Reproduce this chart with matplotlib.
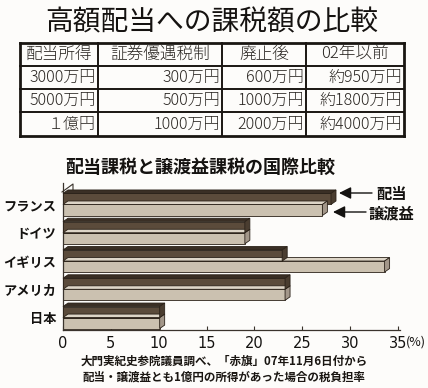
import matplotlib
matplotlib.use("Agg")
import matplotlib.pyplot as plt
from matplotlib.patches import Polygon, FancyArrowPatch
from matplotlib.lines import Line2D

plt.rcParams['font.family'] = ['Noto Sans CJK JP', 'DejaVu Sans']

# ---- data ----
title = "高額配当への課税額の比較"
table_header = ["配当所得", "証券優遇税制", "廃止後", "02年以前"]
table_rows = [
    ["3000万円", "300万円", "600万円", "約950万円"],
    ["5000万円", "500万円", "1000万円", "約1800万円"],
    ["１億円", "1000万円", "2000万円", "約4000万円"],
]
chart_title = "配当課税と譲渡益課税の国際比較"
countries = ["フランス", "ドイツ", "イギリス", "アメリカ", "日本"]
dividend = [28.0, 19.0, 22.9, 23.2, 10.1]
capital_gains = [27.1, 19.0, 33.6, 23.2, 10.1]
series_names = ["配当", "譲渡益"]
xticks = [0, 5, 10, 15, 20, 25, 30, 35]
note_lines = ["大門実紀史参院議員調べ、「赤旗」07年11月6日付から",
              "配当・譲渡益とも1億円の所得があった場合の税負担率"]

W, H = 428, 388
fig = plt.figure(figsize=(W / 100, H / 100), dpi=100)
fig.patch.set_facecolor("#fdfcfa")


def fx(x):
    return x / W


def fy(y):
    return 1 - y / H


# ---- title ----
fig.text(fx(212), fy(22), title, ha="center", va="center", fontsize=20,
         color="#151210")

# ---- table ----
col_x = [20, 98, 222, 306, 404]
row_y = [43, 66, 89, 112, 136]
tcol = "#1a1612"
for i, x in enumerate(col_x):
    lw = 2.0 if i in (0, len(col_x) - 1) else 1.4
    fig.add_artist(Line2D([fx(x), fx(x)], [fy(row_y[0]), fy(row_y[-1])],
                          color=tcol, lw=lw, solid_capstyle="projecting"))
for i, y in enumerate(row_y):
    lw = 2.0 if i in (0, len(row_y) - 1) else 1.4
    fig.add_artist(Line2D([fx(col_x[0]), fx(col_x[-1])], [fy(y), fy(y)],
                          color=tcol, lw=lw, solid_capstyle="projecting"))
for j, h in enumerate(table_header):
    cx = (col_x[j] + col_x[j + 1]) / 2
    cy = (row_y[0] + row_y[1]) / 2
    fig.text(fx(cx), fy(cy), h, ha="center", va="center", fontsize=12,
             color="#2a2622", fontweight="light")
for r, row in enumerate(table_rows):
    cy = (row_y[r + 1] + row_y[r + 2]) / 2
    for j, val in enumerate(row):
        xr = col_x[j + 1] - 2
        fig.text(fx(xr), fy(cy), val, ha="right", va="center", fontsize=11.5,
                 color="#2a2622", fontweight="light")

# ---- chart ----
fig.text(fx(200), fy(167), chart_title, ha="center", va="center", fontsize=13,
         fontweight="bold", color="#141210")

ax_left, ax_right, ax_top, ax_bottom = 63, 398, 183, 330
ax = fig.add_axes([fx(ax_left), fy(ax_bottom), (ax_right - ax_left) / W,
                   (ax_bottom - ax_top) / H])
ax.set_facecolor("none")
ax.set_xlim(0, 35)
ax.set_ylim(4.44, -0.76)

ypos = list(range(len(countries)))
bh = 0.39
dark_front, dark_top, dark_side = "#5b4b3b", "#3a2f25", "#4a3d30"
light_front, light_top, light_side = "#cbc1b0", "#ddd5c7", "#a3978a"
edge = "#2b2219"

bars_gain = ax.barh([y + bh / 2 for y in ypos], capital_gains, height=bh,
                    color=light_front, edgecolor=edge, linewidth=0.6, zorder=2)
bars_div = ax.barh([y - bh / 2 for y in ypos], dividend, height=bh,
                   color=dark_front, edgecolor=edge, linewidth=0.6, zorder=4)

fig.canvas.draw()
dx, dy = 5, 3.5  # 3D depth in display pixels


def add_faces(bar, top_c, side_c, z):
    x0, y0 = bar.get_x(), bar.get_y()
    x1, y1 = x0 + bar.get_width(), y0 + bar.get_height()
    (X0, Ya), (X1, Yb) = ax.transData.transform([(x0, y0), (x1, y1)])
    Ytop, Ybot = max(Ya, Yb), min(Ya, Yb)
    top = Polygon([(X0, Ytop), (X1, Ytop), (X1 + dx, Ytop + dy), (X0 + dx, Ytop + dy)],
                  closed=True, transform=None, facecolor=top_c, edgecolor=edge,
                  linewidth=0.6)
    side = Polygon([(X1, Ybot), (X1 + dx, Ybot + dy), (X1 + dx, Ytop + dy), (X1, Ytop)],
                   closed=True, transform=None, facecolor=side_c, edgecolor=edge,
                   linewidth=0.6)
    top.set_zorder(z)
    side.set_zorder(z)
    fig.add_artist(top)
    fig.add_artist(side)


for b in bars_gain:
    add_faces(b, light_top, light_side, 2.5)
for b in bars_div:
    add_faces(b, dark_top, dark_side, 4.5)

# axes styling
for s in ("top", "right"):
    ax.spines[s].set_visible(False)
ax.spines["left"].set_color("#3a332c")
ax.spines["left"].set_linewidth(0.9)
ax.spines["bottom"].set_color("#3a332c")
ax.spines["bottom"].set_linewidth(0.9)
ax.spines["bottom"].set_bounds(0, 35.2)
ax.set_yticks(ypos)
ax.set_yticklabels(countries, fontsize=9.5, fontweight="bold", color="#141210")
ax.tick_params(axis="y", length=0, pad=5)
ax.set_xticks(xticks)
ax.set_xticklabels([str(t) for t in xticks], fontsize=10.5, color="#141210",
                   family=["Liberation Sans Narrow", "DejaVu Sans"])
ax.tick_params(axis="x", direction="in", length=3, width=0.8, pad=4,
               color="#3a332c")

# back wall top edge
wall = Line2D([fx(62), fx(73), fx(73)], [fy(192), fy(184), fy(190)],
              color="#3a332c", lw=0.8)
fig.add_artist(wall)

fig.text(fx(406), fy(342), "(%)", ha="left", va="center", fontsize=9,
         color="#141210")

# legend arrows
arrow_kw = dict(arrowstyle="-|>,head_length=0.6,head_width=0.3", color="#141210",
                lw=1.0, shrinkA=0, shrinkB=0, mutation_scale=12)
fig.add_artist(FancyArrowPatch((fx(372), fy(193)), (fx(339), fy(193)),
                               transform=fig.transFigure, **arrow_kw))
fig.add_artist(FancyArrowPatch((fx(366), fy(212)), (fx(333), fy(212)),
                               transform=fig.transFigure, **arrow_kw))
fig.text(fx(392), fy(194), series_names[0], ha="center", va="center",
         fontsize=11, fontweight="bold", color="#141210")
fig.text(fx(391), fy(213), series_names[1], ha="center", va="center",
         fontsize=11, fontweight="bold", color="#141210")

# notes
fig.text(fx(224), fy(361), note_lines[0], ha="center", va="center", fontsize=8.3,
         fontweight="bold", color="#1a1612")
fig.text(fx(224), fy(377), note_lines[1], ha="center", va="center", fontsize=8.3,
         fontweight="bold", color="#1a1612")

fig.savefig("out.png", dpi=100, facecolor=fig.get_facecolor())
